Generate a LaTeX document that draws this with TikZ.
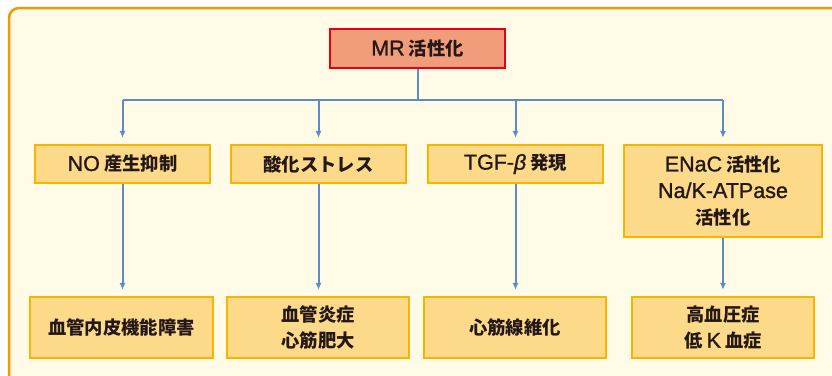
\documentclass[tikz,border=0pt]{standalone}
\usepackage{fontspec}
\setmainfont{Noto Sans CJK JP}
\newfontfamily\latfont{Liberation Sans}[FakeBold=1.2]
\newcommand{\lt}[1]{{\latfont\mdseries\fontsize{21.5}{26.5}\selectfont #1}}
\usetikzlibrary{arrows.meta}
\definecolor{bgfill}{HTML}{FFFBE6}
\definecolor{bgline}{HTML}{F39800}
\definecolor{mrfill}{HTML}{F19C7A}
\definecolor{mrline}{HTML}{E60012}
\definecolor{boxfill}{HTML}{FDD98A}
\definecolor{boxline}{HTML}{F8B500}
\definecolor{conn}{HTML}{5B8CC9}
\definecolor{txt}{HTML}{231815}
\tikzset{
  basebox/.style={draw, line width=2.2pt, inner sep=0pt, align=center, text=txt,
    font=\fontsize{18.3}{26.5}\selectfont\bfseries},
  mrbox/.style={basebox, draw=mrline, fill=mrfill, line width=1.8pt},
  ybox/.style={basebox, draw=boxline, fill=boxfill},
  conline/.style={draw=conn, line width=2pt},
  arr/.style={conline, -{Latex[length=7pt,width=6pt]}, shorten >=6pt}
}
\begin{document}
\begin{tikzpicture}[x=1pt,y=-1pt]
\useasboundingbox (0,0) rectangle (832,375);
\clip (0,0) rectangle (832,375);
\fill[white] (0,0) rectangle (832,375);
\draw[draw=bgline, fill=bgfill, line width=2.5pt, rounded corners=10pt] (9,8) rectangle (860,400);

\node[mrbox, minimum width=175pt, minimum height=39pt] (mr) at (417.5,48.5) {\lt{MR} 活性化};

\node[ybox, minimum width=175pt, minimum height=38pt] (m1) at (122.5,164) {\lt{NO} 産生抑制};
\node[ybox, minimum width=175pt, minimum height=38pt] (m2) at (318.5,164) {酸化ストレス};
\node[ybox, minimum width=175pt, minimum height=38pt] (m3) at (515.5,164) {\lt{TGF-\itshape β} 発現};
\node[ybox, minimum width=198pt, minimum height=92pt] (m4) at (723,191) {\lt{ENaC} 活性化\\\lt{Na/K-ATPase}\\活性化};

\node[ybox, minimum width=183pt, minimum height=61pt] (b1) at (121.5,327.5) {血管内皮機能障害};
\node[ybox, minimum width=182pt, minimum height=61pt] (b2) at (318,327.5) {血管炎症\\心筋肥大};
\node[ybox, minimum width=182pt, minimum height=61pt] (b3) at (515,327.5) {心筋線維化};
\node[ybox, minimum width=182pt, minimum height=61pt] (b4) at (723,327.5) {高血圧症\\低 \lt{K} 血症};

\coordinate (hb) at (417.5,100);
\draw[conline] (mr.south) -- (hb);
\draw[conline] (hb -| m1.north) -- (hb -| m4.north);
\foreach \n in {m1,m2,m3,m4}{
  \draw[arr] (hb -| \n.north) -- (\n.north);
}
\draw[arr] (m1.south) -- (b1.north -| m1.south);
\draw[arr] (m2.south) -- (b2.north -| m2.south);
\draw[arr] (m3.south) -- (b3.north -| m3.south);
\draw[arr] (m4.south) -- (b4.north -| m4.south);
\end{tikzpicture}
\end{document}
